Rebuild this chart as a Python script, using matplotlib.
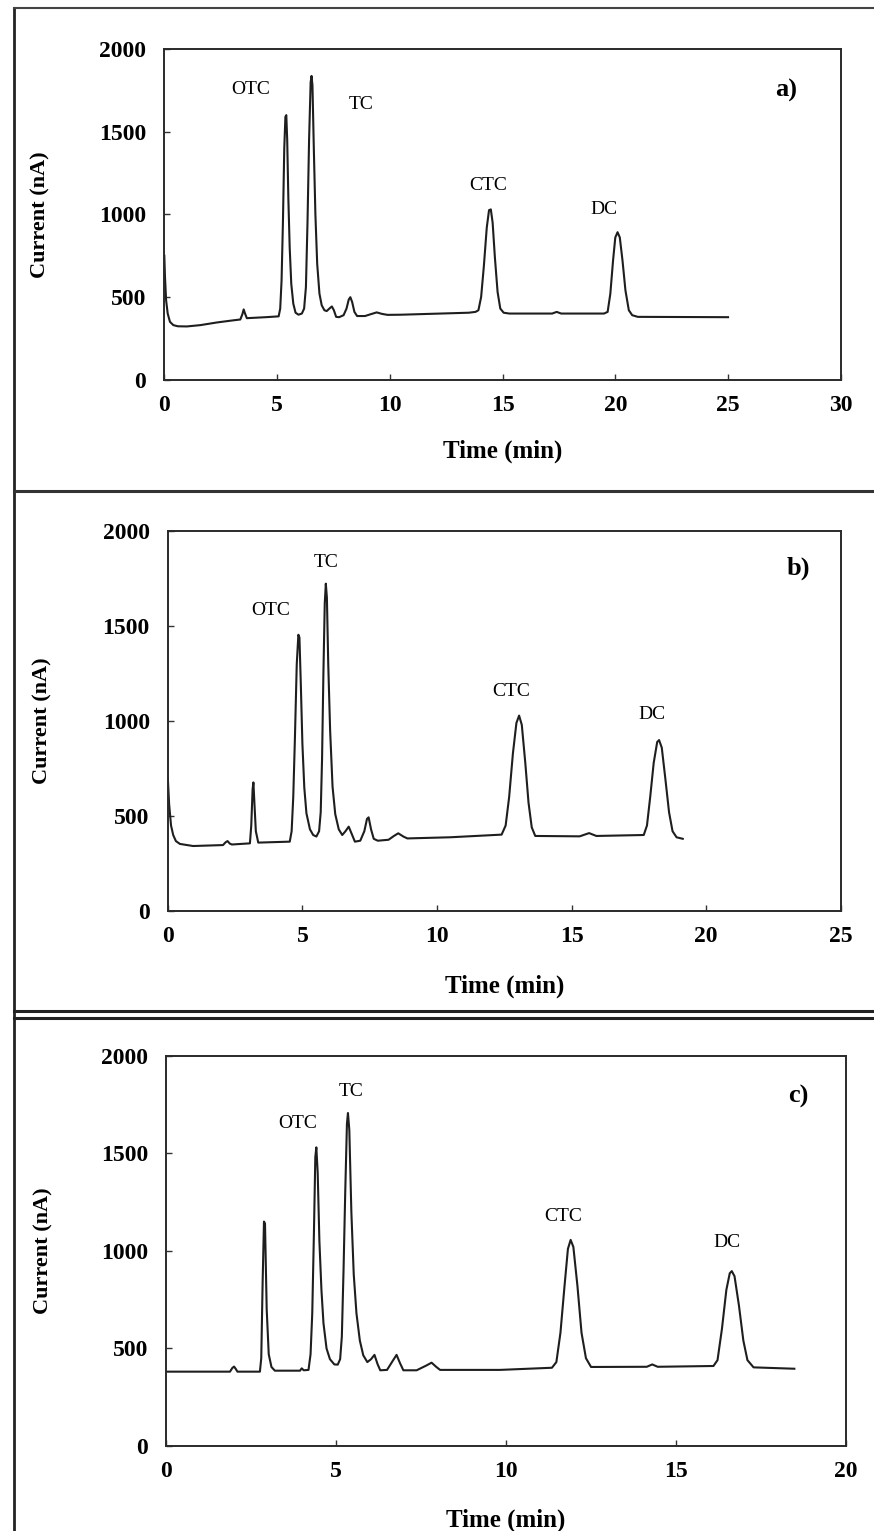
import matplotlib.pyplot as plt
from matplotlib.lines import Line2D

# traced chromatograms (time in min, current in nA)
time_a = [0, 0.03, 0.08, 0.15, 0.25, 0.4, 0.6, 1.0, 1.6, 2.33, 3.0, 3.37, 3.46, 3.52, 3.58, 3.66, 4.5, 5.07,
          5.14, 5.2, 5.26, 5.32, 5.37, 5.41, 5.45, 5.5, 5.56, 5.63, 5.72, 5.82, 5.95, 6.1, 6.2,
          6.28, 6.35, 6.42, 6.49, 6.53, 6.57, 6.63, 6.7, 6.78, 6.88, 6.98, 7.1, 7.2, 7.32, 7.43,
          7.52, 7.62, 7.75, 7.95, 8.08, 8.18, 8.25, 8.33, 8.43, 8.55, 8.9, 9.2, 9.42, 9.65, 9.9,
          10.5, 13.5, 13.8, 13.93, 14.05, 14.17, 14.3, 14.4, 14.48, 14.56, 14.66, 14.78, 14.9,
          15.05, 15.3, 17.2, 17.4, 17.6, 19.5, 19.66, 19.78, 19.9, 20.0, 20.1, 20.2, 20.32,
          20.45, 20.6, 20.75, 21.0, 25.0]
curr_a = [750, 620, 480, 400, 350, 330, 323, 322, 330, 346, 358, 364, 395, 425, 400, 372, 378, 383,
          430, 600, 950, 1400, 1590, 1600, 1450, 1100, 800, 580, 460, 405, 393, 400, 430,
          560, 950, 1450, 1800, 1837, 1780, 1400, 1000, 700, 520, 450, 420, 415, 430, 443,
          420, 380, 378, 390, 430, 485, 499, 470, 410, 385, 385, 398, 407, 398, 392,
          393, 405, 410, 420, 500, 685, 920, 1025, 1030, 950, 740, 530, 430,
          405, 400, 400, 410, 400, 400, 410, 520, 720, 860, 892, 860, 720,
          540, 420, 390, 380, 378]

time_b = [0, 0.05, 0.12, 0.2, 0.3, 0.45, 0.94, 2.05, 2.15, 2.22, 2.3, 2.38, 3.05, 3.1, 3.15,
          3.18, 3.22, 3.27, 3.36, 4.53, 4.6, 4.66, 4.72, 4.79, 4.85, 4.89, 4.94, 5.0, 5.07,
          5.15, 5.28, 5.4, 5.52, 5.62, 5.68, 5.73, 5.78, 5.83, 5.87, 5.91, 5.96, 6.03, 6.12,
          6.22, 6.35, 6.48, 6.6, 6.72, 6.82, 6.95, 7.15, 7.3, 7.4, 7.46, 7.55, 7.65, 7.8,
          8.2, 8.4, 8.56, 8.75, 8.9, 10.48, 12.4, 12.55, 12.68, 12.82, 12.95, 13.05, 13.15,
          13.28, 13.4, 13.52, 13.65, 15.3, 15.65, 15.92, 17.68, 17.8, 17.92, 18.05, 18.18,
          18.25, 18.35, 18.48, 18.62, 18.75, 18.9, 19.13]
curr_b = [700, 560, 450, 400, 368, 353, 342, 347, 362, 368, 355, 350, 356, 450, 640,
          677, 560, 420, 360, 365, 420, 600, 900, 1300, 1455, 1440, 1200, 880, 650,
          514, 430, 400, 392, 420, 520, 800, 1250, 1620, 1724, 1650, 1300, 950, 654,
          510, 430, 400, 420, 444, 410, 365, 370, 420, 485, 493, 430, 380, 370,
          375, 395, 409, 392, 382, 388, 402, 450, 600, 830, 990, 1029, 980,
          780, 570, 440, 395, 393, 410, 395, 400, 450, 600, 780, 890,
          900, 860, 700, 520, 420, 388, 380]

time_c = [0, 1.88, 1.95, 2.0, 2.05, 2.1, 2.76, 2.8, 2.84, 2.88, 2.91, 2.96, 3.02, 3.1, 3.2,
          3.94, 3.99, 4.05, 4.19, 4.25, 4.3, 4.35, 4.39, 4.42, 4.46, 4.51, 4.57, 4.63, 4.72,
          4.82, 4.95, 5.05, 5.12, 5.17, 5.22, 5.27, 5.32, 5.35, 5.39, 5.45, 5.52, 5.6, 5.7,
          5.8, 5.92, 6.03, 6.13, 6.22, 6.3, 6.5, 6.68, 6.78, 6.88, 6.98, 7.37, 7.65, 7.81,
          7.95, 8.06, 9.82, 11.35, 11.48, 11.6, 11.72, 11.82, 11.9, 11.98, 12.1, 12.22,
          12.35, 12.5, 14.14, 14.3, 14.46, 16.1, 16.22, 16.35, 16.48, 16.58, 16.64, 16.72,
          16.85, 16.98, 17.1, 17.28, 18.48]
curr_c = [381, 381, 400, 407, 395, 381, 381, 450, 834, 1150, 1140, 700, 470, 405, 386,
          386, 398, 388, 390, 470, 680, 1100, 1480, 1530, 1400, 1050, 800, 629, 500,
          445, 418, 417, 445, 560, 900, 1300, 1650, 1706, 1620, 1200, 880, 680, 540,
          465, 430, 445, 467, 420, 388, 390, 440, 467, 425, 388, 388, 412, 427,
          405, 390, 390, 401, 430, 580, 820, 1010, 1056, 1020, 820, 580,
          450, 405, 406, 418, 406, 410, 440, 600, 800, 885, 896, 870,
          720, 540, 440, 403, 396]

peak_names = ['OTC', 'TC', 'CTC', 'DC']
label_pos_a = [(3.83, 1752), (8.73, 1662), (14.35, 1174), (19.49, 1027)]
label_pos_b = [(3.83, 1584), (5.87, 1833), (12.77, 1157), (17.99, 1033)]
label_pos_c = [(3.87, 1653), (5.45, 1818), (11.68, 1174), (16.51, 1044)]

panels = [
    # x data, y data, xmax, labels, tag, tag pos, axes rect, ylabel x, xlabel y
    (time_a, curr_a, 30, label_pos_a, 'a)', (27.58, 1752), [0.188, 0.752, 0.774, 0.216], -0.168, -0.181),
    (time_b, curr_b, 25, label_pos_b, 'b)', (23.42, 1803), [0.192, 0.405, 0.770, 0.248], -0.171, -0.168),
    (time_c, curr_c, 20, label_pos_c, 'c)', (18.59, 1792), [0.190, 0.0555, 0.778, 0.255], -0.166, -0.159),
]

plt.rcParams['font.family'] = ['Liberation Serif', 'DejaVu Serif']

fig = plt.figure(figsize=(8.74, 15.31), dpi=100)

for x, y, xmax, lpos, tag, tpos, rect, ylx, xly in panels:
    ax = fig.add_axes(rect)
    ax.plot(x, y, color='#1e1e1e', linewidth=1.5)
    ax.set_xlim(0, xmax)
    ax.set_ylim(0, 2000)
    ax.set_xticks(range(0, xmax + 1, 5))
    ax.set_yticks(range(0, 2001, 500))
    ax.tick_params(direction='in', length=4, width=1, labelsize=17, color='#333333')
    ax.tick_params(axis='x', pad=11)
    ax.tick_params(axis='y', pad=13)
    for lab in ax.get_xticklabels() + ax.get_yticklabels():
        lab.set_fontweight('bold')
    for sp in ax.spines.values():
        sp.set_linewidth(1.4)
        sp.set_color('#2a2a2a')
    ax.set_xlabel('Time (min)', fontsize=18, fontweight='bold')
    ax.set_ylabel('Current (nA)', fontsize=16, fontweight='bold')
    ax.xaxis.set_label_coords(0.5, xly)
    ax.yaxis.set_label_coords(ylx, 0.5)
    for name, (px, py) in zip(peak_names, lpos):
        ax.text(px, py, name, fontsize=14, ha='center', va='center')
    ax.text(tpos[0], tpos[1], tag, fontsize=19, fontweight='bold', ha='center', va='center')

# frame lines of the scanned page
fig.add_artist(Line2D([0.016, 0.016], [0.0, 0.995], color='#222222', linewidth=2))
fig.add_artist(Line2D([0.016, 1.0], [0.995, 0.995], color='#444444', linewidth=1.5))
fig.add_artist(Line2D([0.016, 1.0], [0.679, 0.679], color='#333333', linewidth=2.2))
fig.add_artist(Line2D([0.016, 1.0], [0.3397, 0.3397], color='#222222', linewidth=2.2))
fig.add_artist(Line2D([0.016, 1.0], [0.3351, 0.3351], color='#222222', linewidth=2.2))

plt.savefig('out.png', dpi=100)
